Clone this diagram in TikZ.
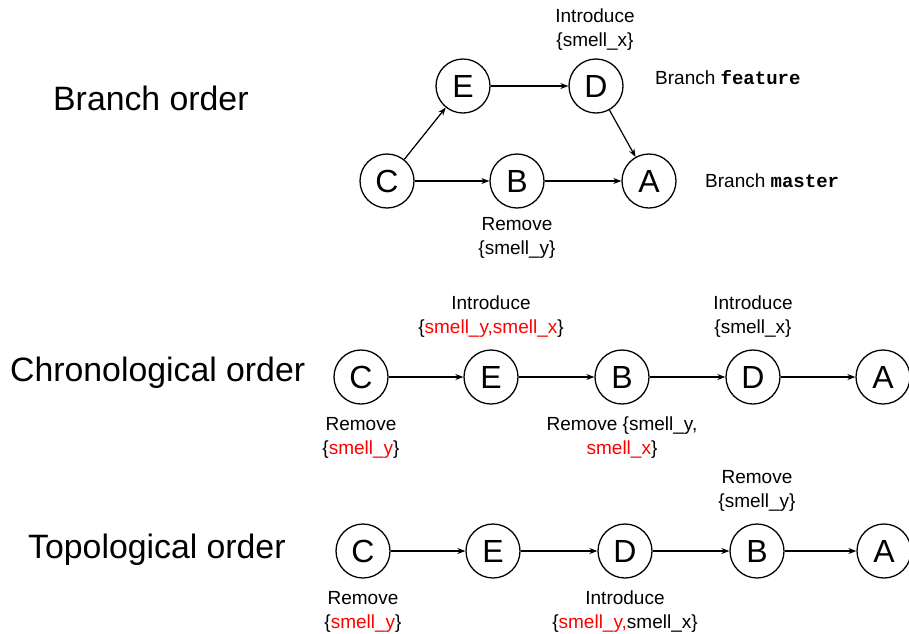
\documentclass[tikz,border=0pt]{standalone}
\usepackage{fontspec}
\setmainfont{Liberation Sans}
\setmonofont{Liberation Mono}
\usetikzlibrary{arrows.meta}
\newcommand\redtx[1]{\textcolor{red}{#1}}
\begin{document}
\begin{tikzpicture}[x=1pt,y=-1pt,
 commit/.style={circle,draw,line width=1.3pt,minimum size=54pt,inner sep=0pt,font=\fontsize{32}{32}\selectfont},
 lbl/.style={align=center,font=\fontsize{19}{24}\selectfont,inner sep=0pt},
 ttl/.style={anchor=west,font=\fontsize{33.8}{38}\selectfont,inner sep=0pt},
 arr/.style={-{Stealth[length=8pt,width=6pt]},line width=1.2pt}]
\useasboundingbox (0,0) rectangle (909,633);

% ---------- Branch order ----------
\node[ttl] (t1) at (53,98) {Branch order};
\node[commit] (C1) at (387,181) {C};
\node[commit] (B1) at (517,181) {B};
\node[commit] (A1) at (649,181) {A};
\node[commit] (E1) at (463,86) {E};
\node[commit] (D1) at (596,86) {D};
\draw[arr] (C1) -- (E1);
\draw[arr] (E1) -- (D1);
\draw[arr] (D1) -- (A1);
\draw[arr] (C1) -- (B1);
\draw[arr] (B1) -- (A1);
\node[lbl] (lD1) at (595,30) {Introduce\\\{smell\_x\}};
\node[lbl] (lB1) at (517,238) {Remove\\\{smell\_y\}};
\node[lbl,anchor=west] (bf) at (655,78) {Branch \textbf{\ttfamily feature}};
\node[lbl,anchor=west] (bm) at (705,181) {Branch \textbf{\ttfamily master}};

% ---------- Chronological order ----------
\node[ttl] (t2) at (10,373) {Chronological order};
\node[commit] (C2) at (361,377) {C};
\node[commit] (E2) at (491,377) {E};
\node[commit] (B2) at (622,377) {B};
\node[commit] (D2) at (753,377) {D};
\node[commit] (A2) at (883,377) {A};
\draw[arr] (C2) -- (E2);
\draw[arr] (E2) -- (B2);
\draw[arr] (B2) -- (D2);
\draw[arr] (D2) -- (A2);
\node[lbl] (lE2) at (491,317) {Introduce\\\{\redtx{smell\_y,smell\_x}\}};
\node[lbl] (lD2) at (753,317) {Introduce\\\{smell\_x\}};
\node[lbl] (lC2) at (361,438) {Remove\\\{\redtx{smell\_y}\}};
\node[lbl] (lB2) at (622,438) {Remove \{smell\_y,\\\redtx{smell\_x}\}};

% ---------- Topological order ----------
\node[ttl] (t3) at (28,550) {Topological order};
\node[commit] (C3) at (363,551) {C};
\node[commit] (E3) at (493,551) {E};
\node[commit] (D3) at (625,551) {D};
\node[commit] (B3) at (757,551) {B};
\node[commit] (A3) at (884,551) {A};
\draw[arr] (C3) -- (E3);
\draw[arr] (E3) -- (D3);
\draw[arr] (D3) -- (B3);
\draw[arr] (B3) -- (A3);
\node[lbl] (lB3) at (757,491) {Remove\\\{smell\_y\}};
\node[lbl] (lC3) at (363,612) {Remove\\\{\redtx{smell\_y}\}};
\node[lbl] (lD3) at (625,612) {Introduce\\\{\redtx{smell\_y,}smell\_x\}};
\end{tikzpicture}
\end{document}
